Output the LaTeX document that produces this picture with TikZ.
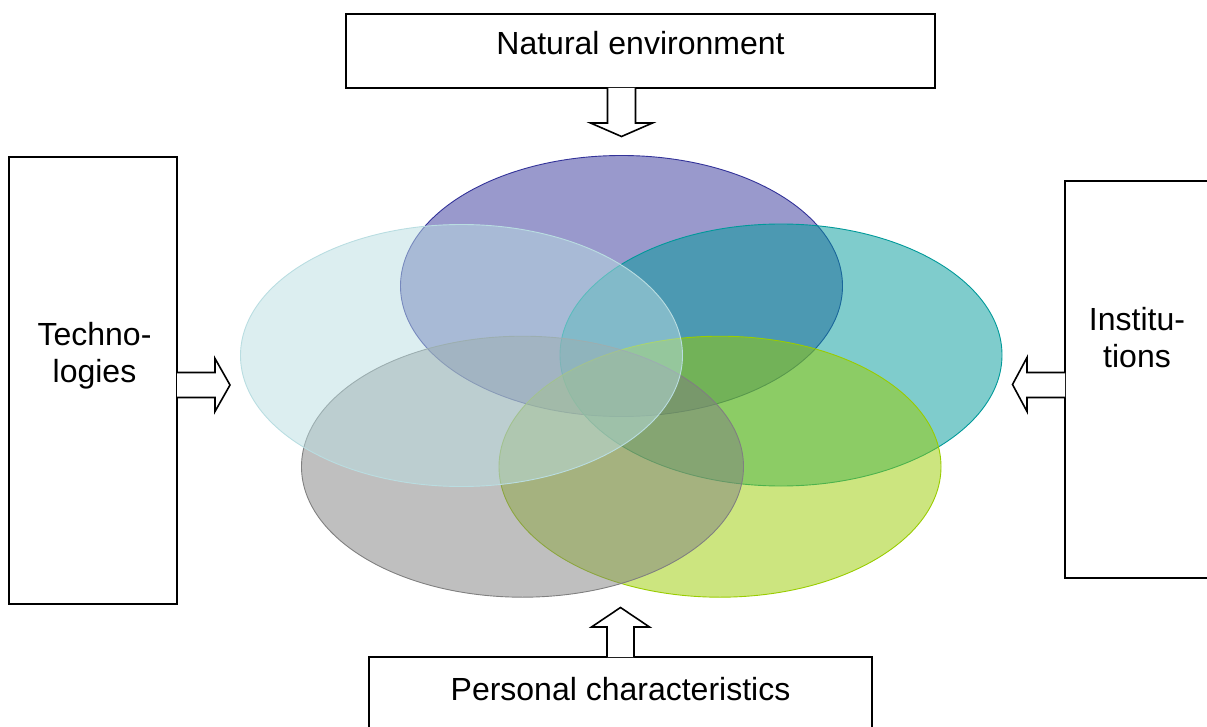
\documentclass[tikz,border=0pt]{standalone}
\usepackage{fontspec}
\setmainfont{Liberation Sans}
\usetikzlibrary{calc}

\definecolor{vennPurple}{RGB}{51,51,153}
\definecolor{vennTeal}{RGB}{0,153,153}
\definecolor{vennGreen}{RGB}{153,204,0}
\definecolor{vennGray}{RGB}{128,128,128}
\definecolor{vennCyan}{RGB}{185,221,225}

\begin{document}
\begin{tikzpicture}[x=1pt,y=-1pt,
  box/.style={draw,line width=1.6pt,outer sep=0pt,inner sep=0pt},
  lbl/.style={font=\fontsize{32}{36.5}\selectfont,align=center,inner sep=0pt},
  blockarr/.style={draw,fill=white,line width=1.6pt,line join=miter},
  venn/.style={line width=0.9pt,fill opacity=0.5}]
  \useasboundingbox (0,0) rectangle (1207,727);
  % Boxes
  \node[box,minimum width=589pt,minimum height=74pt] (nature) at (640.5,51) {};
  \node[box,minimum width=168pt,minimum height=447pt] (tech) at (93,380.5) {};
  \node[box,minimum width=185pt,minimum height=397pt] (inst) at (1157.5,379.5) {};
  \node[box,minimum width=503pt,minimum height=83pt] (pers) at (620.5,698.5) {};
  % Labels
  \node[lbl,anchor=base] (natureTxt) at ($(nature.north)+(0,41)$) {Natural environment};
  \node[lbl] (techTxt) at ($(tech.center)+(1.5,-25)$) {Techno-\\logies};
  \node[lbl] (instTxt) at ($(inst.west)+(72,-42)$) {Institu-\\tions};
  \node[lbl,anchor=base] (persTxt) at ($(pers.north)+(0,43)$) {Personal characteristics};
  % Circles
  \draw[venn,draw=vennPurple,fill=vennPurple] (621.5,286) ellipse [x radius=221,y radius=130.5];
  \draw[venn,draw=vennTeal,fill=vennTeal] (781,355) ellipse [x radius=221,y radius=131];
  \draw[venn,draw=vennGreen,fill=vennGreen] (720,466.7) ellipse [x radius=221,y radius=130.5];
  \draw[venn,draw=vennGray,fill=vennGray] (522.5,466.7) ellipse [x radius=221,y radius=130.5];
  \draw[venn,draw=vennCyan,fill=vennCyan] (461.5,355.5) ellipse [x radius=221,y radius=131];
  % Arrows
  \draw[blockarr] ($(nature.south)+(-33,0)$) -- ++(0,35) -- ++(-17,0) -- ++(31,13.5)
    -- ++(31,-13.5) -- ++(-17,0) -- ++(0,-35);
  \draw[blockarr] ($(tech.east)+(0,-8)$) -- ++(38,0) -- ++(0,-14) -- ++(15,26.5)
    -- ++(-15,26.5) -- ++(0,-14) -- ++(-38,0);
  \draw[blockarr] ($(inst.west)+(0,-7)$) -- ++(-38,0) -- ++(0,-15) -- ++(-14.5,27)
    -- ++(14.5,27) -- ++(0,-14) -- ++(38,0);
  \draw[blockarr] ($(pers.north)+(-13.5,0)$) -- ++(0,-30) -- ++(-15.5,0) -- ++(29,-19.5)
    -- ++(29,19.5) -- ++(-15.5,0) -- ++(0,30);
\end{tikzpicture}
\end{document}
